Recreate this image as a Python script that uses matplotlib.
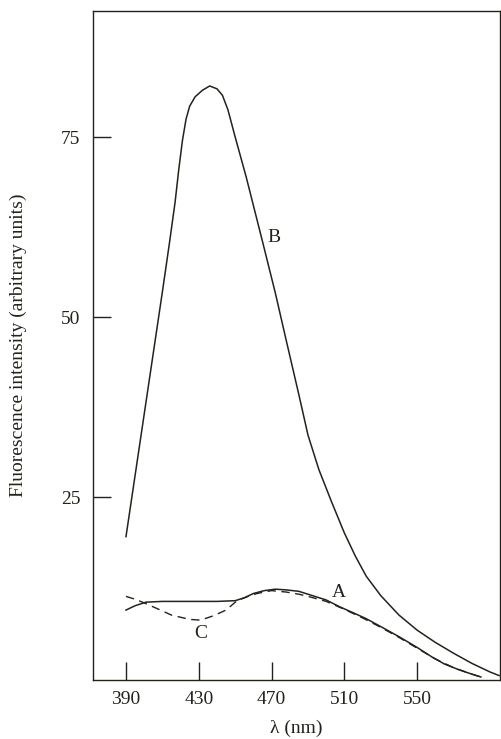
import numpy as np
import matplotlib
matplotlib.use("Agg")
import matplotlib.pyplot as plt

plt.rcParams['font.family'] = ['Liberation Serif', 'DejaVu Serif']

# curve B (strong emission)
wl_b = [390, 395, 400, 405, 410, 414, 417, 419, 421, 423, 425, 428, 432, 436, 440,
        443, 446, 450, 456, 460, 465, 472, 478, 485, 490, 496, 503, 510, 516, 522,
        530, 540, 550, 560, 570, 580, 590, 595]
int_b = [19.5, 28, 36.5, 45, 53.5, 60.5, 66, 70.5, 74.5, 77.5, 79.3, 80.6, 81.5, 82.1,
         81.7, 80.8, 78.8, 75, 69.5, 65.5, 60.5, 53.4, 46.8, 39.2, 33.6, 28.8, 24.3,
         20.0, 16.8, 14.0, 11.3, 8.6, 6.5, 4.8, 3.3, 1.9, 0.7, 0.2]

# curve A (solid, low)
wl_a = [390, 395, 401, 410, 420, 430, 440, 450, 455, 460, 466, 472, 478, 485, 490,
        500, 507, 515, 522, 530, 540, 550, 558, 565, 573, 580, 585]
int_a = [9.3, 9.9, 10.4, 10.5, 10.5, 10.5, 10.5, 10.6, 11.0, 11.6, 12.0, 12.2, 12.1,
         11.9, 11.5, 10.7, 9.8, 8.9, 8.1, 7.0, 5.6, 4.1, 2.8, 1.8, 1.0, 0.4, 0.0]

# curve C (dashed)
wl_c = [390, 395, 400, 408, 415, 425, 431, 438, 445, 451, 456, 462, 470, 478, 485,
        490, 500, 510, 520, 530, 540, 550, 560, 570, 580, 585]
int_c = [11.2, 10.8, 10.3, 9.4, 8.6, 8.0, 7.9, 8.5, 9.3, 10.6, 11.1, 11.6, 12.0,
         11.8, 11.5, 11.2, 10.5, 9.4, 8.2, 6.9, 5.5, 4.0, 2.5, 1.3, 0.4, 0.0]

x_ticks = [390, 430, 470, 510, 550]
y_ticks = [25, 50, 75]

ink = '#23231a'

fig = plt.figure(figsize=(5.01, 7.39), dpi=100)
ax = fig.add_axes([0.185, 0.080, 0.813, 0.905])

ax.plot(wl_b, int_b, color=ink, lw=1.1)
ax.plot(wl_a, int_a, color=ink, lw=1.1)
ax.plot(wl_c, int_c, color=ink, lw=1.0, dashes=(6, 4))

ax.text(471.3, 61.1, 'B', fontsize=14, color=ink, ha='center', va='center')
ax.text(507, 11.7, 'A', fontsize=14, color=ink, ha='center', va='center')
ax.text(431, 6.1, 'C', fontsize=14, color=ink, ha='center', va='center')

ax.set_xlim(371.7, 595.5)
ax.set_ylim(-0.4, 92.5)
ax.set_xticks(x_ticks)
ax.set_yticks(y_ticks)
ax.tick_params(direction='in', length=13, width=1.0, color=ink,
               labelsize=14, labelcolor=ink)
ax.tick_params(axis='x', pad=8)
ax.tick_params(axis='y', pad=9)

for s in ax.spines.values():
    s.set_color(ink)
    s.set_linewidth(1.0)

ax.set_xlabel('λ (nm)', fontsize=14, color=ink)
ax.set_ylabel('Fluorescence intensity (arbitrary units)', fontsize=14, color=ink)
ax.xaxis.set_label_coords(0.5, -0.06)
ax.yaxis.set_label_coords(-0.161, 0.5)

fig.savefig('out.png', dpi=100)
